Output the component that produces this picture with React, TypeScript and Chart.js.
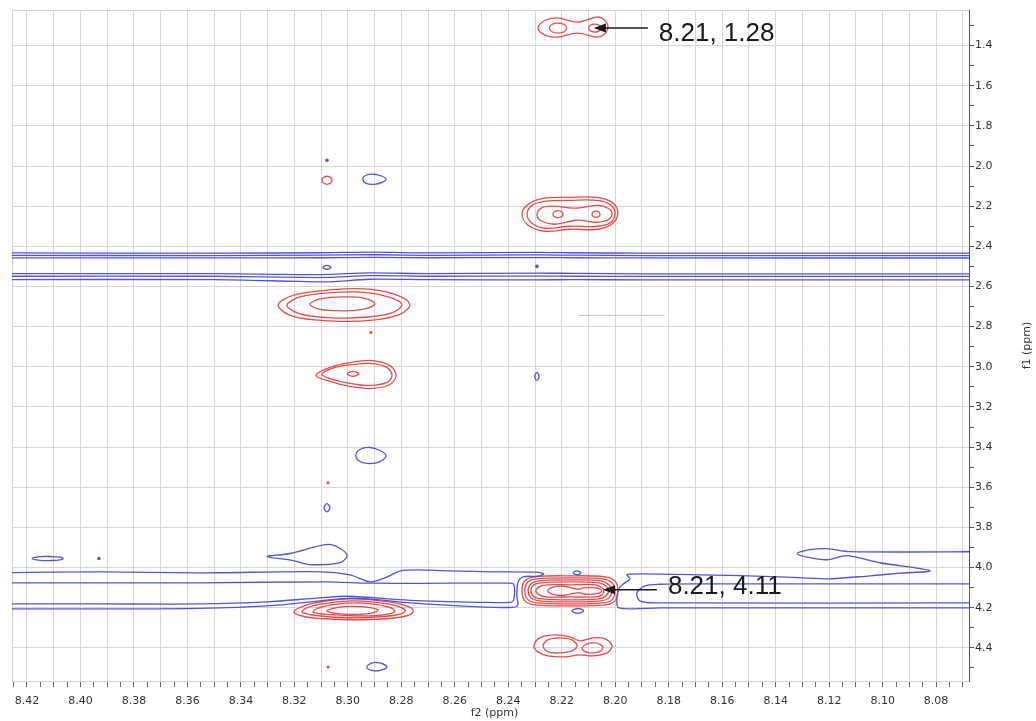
import React, { useEffect, useRef } from "react";
import { Chart, registerables } from "chart.js";
Chart.register(...registerables);

type P = [number, number];

// ---------- axes ----------
const X_TICK_LABELS = ["8.42","8.40","8.38","8.36","8.34","8.32","8.30","8.28","8.26","8.24","8.22","8.20","8.18","8.16","8.14","8.12","8.10","8.08"];
const Y_TICK_LABELS = ["1.4","1.6","1.8","2.0","2.2","2.4","2.6","2.8","3.0","3.2","3.4","3.6","3.8","4.0","4.2","4.4"];
const X_MIN = 8.0677;
const X_MAX = 8.4256;
const Y_MIN = 1.2229;
const Y_MAX = 4.565;

// ---------- red (positive) contours, [f2 ppm, f1 ppm] ----------
const R_128_OUTER: P[] = [[8.2289,1.313],[8.2263,1.275],[8.2218,1.262],[8.2143,1.283],[8.2068,1.258],[8.2042,1.270],[8.2027,1.308],[8.2042,1.345],[8.2068,1.358],[8.2143,1.338],[8.2218,1.358],[8.2263,1.348]];
const R_128_IN_L: P[] = [[8.2246,1.313],[8.2237,1.295],[8.2214,1.288],[8.2191,1.295],[8.2182,1.313],[8.2191,1.331],[8.2214,1.338],[8.2237,1.331]];
const R_128_IN_R: P[] = [[8.2100,1.313],[8.2093,1.299],[8.2076,1.293],[8.2059,1.299],[8.2052,1.313],[8.2059,1.327],[8.2076,1.333],[8.2093,1.327]];
const R_207: P[] = [[8.3097,2.071],[8.3091,2.057],[8.3078,2.051],[8.3065,2.057],[8.3059,2.071],[8.3065,2.085],[8.3078,2.091],[8.3091,2.085]];
const R_224_C1: P[] = [[8.2349,2.240],[8.2326,2.191],[8.2270,2.161],[8.2169,2.156],[8.2068,2.156],[8.2012,2.181],[8.1990,2.230],[8.2009,2.285],[8.2065,2.315],[8.2169,2.315],[8.2263,2.325],[8.2326,2.295]];
const R_224_C2: P[] = [[8.2330,2.240],[8.2311,2.196],[8.2263,2.176],[8.2169,2.171],[8.2068,2.171],[8.2020,2.191],[8.2001,2.230],[8.2016,2.280],[8.2065,2.300],[8.2169,2.300],[8.2263,2.310],[8.2311,2.285]];
const R_224_C3: P[] = [[8.2293,2.245],[8.2278,2.210],[8.2237,2.200],[8.2151,2.210],[8.2065,2.196],[8.2027,2.210],[8.2012,2.240],[8.2031,2.270],[8.2076,2.280],[8.2143,2.270],[8.2225,2.290],[8.2274,2.275]];
const R_224_IN_L: P[] = [[8.2233,2.240],[8.2227,2.227],[8.2214,2.222],[8.2201,2.227],[8.2195,2.240],[8.2201,2.253],[8.2214,2.258],[8.2227,2.253]];
const R_224_IN_R: P[] = [[8.2087,2.240],[8.2083,2.229],[8.2072,2.225],[8.2061,2.229],[8.2057,2.240],[8.2061,2.251],[8.2072,2.255],[8.2083,2.251]];
const R_270_C1: P[] = [[8.3261,2.694],[8.3205,2.644],[8.3067,2.617],[8.2936,2.612],[8.2824,2.639],[8.2768,2.689],[8.2805,2.739],[8.2917,2.769],[8.3067,2.771],[8.3205,2.749]];
const R_270_C2: P[] = [[8.3228,2.694],[8.3179,2.652],[8.3059,2.631],[8.2936,2.629],[8.2842,2.654],[8.2798,2.689],[8.2831,2.729],[8.2925,2.752],[8.3059,2.756],[8.3179,2.736]];
const R_270_C3: P[] = [[8.3142,2.689],[8.3104,2.662],[8.3011,2.652],[8.2936,2.659],[8.2899,2.686],[8.2936,2.711],[8.3011,2.721],[8.3104,2.714]];
const R_303_C1: P[] = [[8.3119,3.043],[8.3067,3.003],[8.2992,2.979],[8.2910,2.969],[8.2842,2.994],[8.2820,3.043],[8.2842,3.088],[8.2910,3.108],[8.2992,3.098],[8.3067,3.073]];
const R_303_C2: P[] = [[8.3097,3.038],[8.3048,3.003],[8.2985,2.989],[8.2910,2.984],[8.2854,3.003],[8.2835,3.043],[8.2854,3.078],[8.2917,3.093],[8.2992,3.083],[8.3056,3.063]];
const R_303_C3: P[] = [[8.3003,3.035],[8.2981,3.023],[8.2958,3.035],[8.2981,3.047]];
const R_422_C1: P[] = [[8.3202,4.220],[8.3153,4.186],[8.3078,4.166],[8.2992,4.156],[8.2910,4.161],[8.2824,4.176],[8.2764,4.200],[8.2756,4.220],[8.2779,4.240],[8.2861,4.255],[8.2981,4.260],[8.3086,4.255],[8.3160,4.245]];
const R_422_C2: P[] = [[8.3172,4.220],[8.3130,4.190],[8.3067,4.176],[8.2985,4.166],[8.2910,4.171],[8.2831,4.186],[8.2790,4.206],[8.2786,4.220],[8.2813,4.235],[8.2880,4.245],[8.2985,4.250],[8.3074,4.245],[8.3138,4.235]];
const R_422_C3: P[] = [[8.3130,4.220],[8.3097,4.196],[8.3037,4.181],[8.2973,4.176],[8.2910,4.181],[8.2850,4.196],[8.2824,4.216],[8.2842,4.230],[8.2899,4.240],[8.2985,4.240],[8.3056,4.235],[8.3104,4.230]];
const R_422_C4: P[] = [[8.3078,4.216],[8.3037,4.198],[8.2985,4.193],[8.2925,4.198],[8.2887,4.211],[8.2917,4.228],[8.2985,4.233],[8.3044,4.228]];
const R_411_C1: P[] = [[8.2349,4.116],[8.2338,4.066],[8.2300,4.046],[8.2169,4.041],[8.2038,4.046],[8.2001,4.066],[8.1990,4.116],[8.2001,4.166],[8.2038,4.186],[8.2169,4.191],[8.2300,4.186],[8.2338,4.166]];
const R_411_C2: P[] = [[8.2338,4.116],[8.2326,4.071],[8.2293,4.056],[8.2169,4.051],[8.2046,4.056],[8.2012,4.076],[8.2001,4.116],[8.2012,4.161],[8.2046,4.176],[8.2169,4.181],[8.2293,4.176],[8.2326,4.161]];
const R_411_C3: P[] = [[8.2326,4.116],[8.2315,4.081],[8.2285,4.066],[8.2169,4.061],[8.2053,4.066],[8.2024,4.086],[8.2012,4.116],[8.2024,4.151],[8.2053,4.166],[8.2169,4.171],[8.2285,4.166],[8.2315,4.151]];
const R_411_C4: P[] = [[8.2315,4.116],[8.2304,4.086],[8.2274,4.076],[8.2169,4.071],[8.2061,4.076],[8.2035,4.091],[8.2024,4.116],[8.2035,4.141],[8.2061,4.156],[8.2169,4.161],[8.2274,4.156],[8.2304,4.146]];
const R_411_C5: P[] = [[8.2297,4.116],[8.2285,4.096],[8.2255,4.086],[8.2169,4.086],[8.2072,4.086],[8.2050,4.101],[8.2042,4.116],[8.2050,4.136],[8.2072,4.146],[8.2169,4.146],[8.2255,4.146],[8.2285,4.136]];
const R_411_C6: P[] = [[8.2252,4.116],[8.2233,4.098],[8.2196,4.093],[8.2158,4.103],[8.2139,4.108],[8.2113,4.100],[8.2065,4.103],[8.2050,4.116],[8.2065,4.129],[8.2113,4.133],[8.2139,4.125],[8.2158,4.129],[8.2196,4.139],[8.2233,4.134]];
const R_440_OUTER: P[] = [[8.2304,4.390],[8.2282,4.350],[8.2226,4.335],[8.2169,4.345],[8.2132,4.365],[8.2083,4.350],[8.2038,4.355],[8.2012,4.390],[8.2031,4.425],[8.2083,4.440],[8.2132,4.435],[8.2188,4.445],[8.2252,4.440],[8.2289,4.420]];
const R_440_IN_L: P[] = [[8.2270,4.390],[8.2252,4.360],[8.2207,4.350],[8.2162,4.360],[8.2143,4.390],[8.2162,4.415],[8.2207,4.425],[8.2252,4.420]];
const R_440_IN_R: P[] = [[8.2124,4.400],[8.2106,4.380],[8.2076,4.375],[8.2053,4.385],[8.2046,4.400],[8.2061,4.420],[8.2095,4.425],[8.2117,4.415]];
const R_DOTS: P[] = [[8.2914,2.829],[8.3074,3.577],[8.3074,4.495]];

// ---------- blue (negative) contours ----------
const B_207: P[] = [[8.2944,2.066],[8.2932,2.046],[8.2902,2.041],[8.2872,2.051],[8.2857,2.066],[8.2872,2.081],[8.2902,2.091],[8.2932,2.086]];
const B_245_A: P[] = [[8.43,2.433],[8.35,2.434],[8.31,2.432],[8.29,2.429],[8.27,2.433],[8.229,2.430],[8.215,2.432],[8.19,2.434],[8.06,2.434]];
const B_245_B: P[] = [[8.43,2.445],[8.35,2.446],[8.31,2.444],[8.29,2.442],[8.27,2.445],[8.229,2.443],[8.215,2.444],[8.19,2.446],[8.06,2.446]];
const B_245_C: P[] = [[8.43,2.457],[8.35,2.458],[8.31,2.457],[8.29,2.455],[8.27,2.457],[8.229,2.456],[8.215,2.457],[8.19,2.458],[8.06,2.458]];
const B_255_A: P[] = [[8.43,2.536],[8.35,2.536],[8.318,2.541],[8.307,2.540],[8.292,2.532],[8.27,2.536],[8.229,2.533],[8.215,2.535],[8.19,2.537],[8.06,2.537]];
const B_255_B: P[] = [[8.43,2.549],[8.35,2.549],[8.318,2.555],[8.307,2.555],[8.292,2.546],[8.27,2.549],[8.229,2.548],[8.215,2.549],[8.19,2.550],[8.06,2.550]];
const B_255_C: P[] = [[8.43,2.566],[8.35,2.566],[8.318,2.575],[8.307,2.577],[8.292,2.564],[8.27,2.566],[8.229,2.567],[8.215,2.566],[8.19,2.567],[8.06,2.567]];
const B_250_SMALL: P[] = [[8.3093,2.505],[8.3078,2.495],[8.3063,2.505],[8.3078,2.515]];
const B_305: P[] = [[8.2301,3.048],[8.2293,3.028],[8.2285,3.048],[8.2293,3.068]];
const B_344: P[] = [[8.2970,3.442],[8.2955,3.412],[8.2917,3.402],[8.2880,3.417],[8.2857,3.442],[8.2880,3.472],[8.2917,3.482],[8.2955,3.472]];
const B_370: P[] = [[8.3089,3.702],[8.3078,3.682],[8.3067,3.702],[8.3078,3.722]];
const B_394: P[] = [[8.3302,3.945],[8.3216,3.930],[8.3074,3.885],[8.3029,3.905],[8.3003,3.940],[8.3029,3.975],[8.3142,3.985],[8.3205,3.965]];
const B_396_LEFT: P[] = [[8.4181,3.955],[8.4151,3.946],[8.4114,3.945],[8.4077,3.948],[8.4065,3.955],[8.4077,3.962],[8.4114,3.965],[8.4151,3.964]];
const B_403_SMALL: P[] = [[8.2158,4.026],[8.2143,4.016],[8.2128,4.026],[8.2143,4.036]];
const B_421_SMALL: P[] = [[8.2162,4.216],[8.2140,4.204],[8.2118,4.216],[8.2140,4.228]];
const B_449: P[] = [[8.2929,4.495],[8.2910,4.475],[8.2880,4.475],[8.2854,4.495],[8.2880,4.512],[8.2910,4.512]];
const B_LEFT_OUTER: P[] = [[8.43,4.026],[8.3927,4.021],[8.3553,4.026],[8.3104,4.021],[8.2992,4.036],[8.2917,4.071],[8.2861,4.051],[8.2794,4.014],[8.2618,4.016],[8.2457,4.021],[8.2293,4.023],[8.2267,4.031],[8.2289,4.043],[8.2345,4.046],[8.2364,4.076],[8.2368,4.141],[8.2364,4.186],[8.2383,4.198],[8.2506,4.196],[8.2768,4.176],[8.2880,4.161],[8.2999,4.153],[8.3104,4.166],[8.3302,4.191],[8.3553,4.203],[8.3927,4.206],[8.43,4.206]];
const B_LEFT_INNER: P[] = [[8.43,4.076],[8.3553,4.076],[8.3078,4.071],[8.2917,4.078],[8.2618,4.078],[8.2394,4.078],[8.2379,4.086],[8.2379,4.156],[8.2390,4.173],[8.2506,4.173],[8.2768,4.163],[8.2999,4.143],[8.3104,4.151],[8.3302,4.171],[8.3553,4.181],[8.3927,4.181],[8.43,4.181]];
const B_RIGHT_OUTER: P[] = [[8.06,3.921],[8.1122,3.921],[8.1208,3.906],[8.1272,3.911],[8.1320,3.931],[8.1272,3.951],[8.1208,3.961],[8.1133,3.941],[8.1010,3.976],[8.0823,4.016],[8.0935,4.028],[8.1047,4.041],[8.1208,4.056],[8.1384,4.046],[8.1683,4.036],[8.1908,4.031],[8.1956,4.036],[8.1945,4.056],[8.1982,4.096],[8.1994,4.151],[8.1986,4.201],[8.1833,4.201],[8.06,4.201]];
const B_RIGHT_INNER: P[] = [[8.06,4.081],[8.1683,4.081],[8.1833,4.083],[8.1889,4.091],[8.1919,4.126],[8.1908,4.166],[8.1852,4.176],[8.06,4.176]];
const B_DOTS: P[] = [[8.3078,1.971],[8.2293,2.500],[8.3931,3.955]];

// faint gray segment
const GRAY_SEGMENT: P[] = [[8.2139,2.744],[8.1814,2.744]];

// annotations
const ANNOT_TEXT = ["8.21, 1.28", "8.21, 4.11"];
const ANNOT_TIP: P[] = [[8.2080, 1.3127], [8.2046, 4.1107]];
const ANNOT_TAIL_X = [8.1878, 8.1844];
const ANNOT_TEXT_POS: P[] = [[8.1837, 1.3776], [8.1803, 4.1307]];

const RED = "#e84a4a";
const BLUE = "#5252e2";
const TICK_FONT = "Tahoma, 'DejaVu Sans', sans-serif";

const RED_LOOPS = [R_128_OUTER, R_128_IN_L, R_128_IN_R, R_207, R_224_C1, R_224_C2, R_224_C3, R_224_IN_L, R_224_IN_R,
  R_270_C1, R_270_C2, R_270_C3, R_303_C1, R_303_C2, R_303_C3, R_422_C1, R_422_C2, R_422_C3, R_422_C4,
  R_411_C1, R_411_C2, R_411_C3, R_411_C4, R_411_C5, R_411_C6, R_440_OUTER, R_440_IN_L, R_440_IN_R];
const BLUE_LOOPS = [B_207, B_250_SMALL, B_305, B_344, B_370, B_394, B_396_LEFT, B_403_SMALL, B_421_SMALL, B_449];
const BLUE_OPEN = [B_245_A, B_245_B, B_245_C, B_255_A, B_255_B, B_255_C, B_LEFT_OUTER, B_LEFT_INNER, B_RIGHT_OUTER, B_RIGHT_INNER];

const toXY = (p: P[]) => p.map(([x, y]) => ({ x, y }));

function lineDs(p: P[], color: string, loop: boolean, width = 1.3, tension = 0.35) {
  return {
    data: toXY(p),
    borderColor: color,
    borderWidth: width,
    pointRadius: 0,
    showLine: true,
    fill: false,
    tension,
    spanGaps: true,
    closedLoop: loop,
  };
}
function dotDs(p: P[], color: string, r: number) {
  return {
    data: toXY(p),
    showLine: false,
    pointRadius: r,
    pointBackgroundColor: color,
    pointBorderColor: color,
    pointBorderWidth: 0,
  };
}

// make closed contours smooth, closed splines
const loopPlugin = {
  id: "closedLoops",
  afterDatasetsUpdate(chart: any) {
    chart.data.datasets.forEach((ds: any, i: number) => {
      if (!ds.closedLoop) return;
      const el = chart.getDatasetMeta(i).dataset;
      if (!el) return;
      el._loop = true;
      el._fullLoop = true;
      el._pointsUpdated = false;
      el._segments = undefined;
      el._path = undefined;
    });
  },
};

const overlayPlugin = {
  id: "overlay",
  beforeDatasetsDraw(chart: any) {
    const { ctx, chartArea: a } = chart;
    ctx.save();
    ctx.strokeStyle = "#cfcfcf";
    ctx.lineWidth = 1;
    ctx.beginPath();
    ctx.moveTo(a.left + 0.5, a.bottom);
    ctx.lineTo(a.left + 0.5, a.top + 0.5);
    ctx.lineTo(a.right, a.top + 0.5);
    ctx.stroke();
    ctx.restore();
  },
  afterDraw(chart: any) {
    const { ctx, chartArea: a } = chart;
    const xs = chart.scales.x;
    const ys = chart.scales.y;
    ctx.save();
    for (let i = 0; i < ANNOT_TEXT.length; i++) {
      const tx = xs.getPixelForValue(ANNOT_TIP[i][0]);
      const ty = ys.getPixelForValue(ANNOT_TIP[i][1]);
      const tail = xs.getPixelForValue(ANNOT_TAIL_X[i]);
      ctx.strokeStyle = "#1a1a1a";
      ctx.fillStyle = "#1a1a1a";
      ctx.lineWidth = 1.6;
      ctx.beginPath();
      ctx.moveTo(tail, ty);
      ctx.lineTo(tx + 10, ty);
      ctx.stroke();
      ctx.beginPath();
      ctx.moveTo(tx, ty);
      ctx.lineTo(tx + 12, ty - 4.5);
      ctx.lineTo(tx + 12, ty + 4.5);
      ctx.closePath();
      ctx.fill();
      ctx.font = "26px 'Liberation Sans', Arial, sans-serif";
      ctx.textAlign = "left";
      ctx.textBaseline = "alphabetic";
      ctx.fillText(ANNOT_TEXT[i], xs.getPixelForValue(ANNOT_TEXT_POS[i][0]), ys.getPixelForValue(ANNOT_TEXT_POS[i][1]));
    }
    ctx.fillStyle = "#333";
    ctx.font = `11px ${TICK_FONT}`;
    ctx.textAlign = "center";
    ctx.textBaseline = "middle";
    ctx.fillText("f2 (ppm)", (a.left + a.right) / 2 + 4, 713);
    ctx.translate(1027, (a.top + a.bottom) / 2);
    ctx.rotate(-Math.PI / 2);
    ctx.fillText("f1 (ppm)", 0, 0);
    ctx.restore();
  },
};

export default function App() {
  const ref = useRef<HTMLCanvasElement | null>(null);
  useEffect(() => {
    document.body.style.margin = "0";
    const canvas = ref.current;
    if (!canvas) return;
    const datasets: any[] = [];
    datasets.push(lineDs(GRAY_SEGMENT, "#c4c4c4", false, 1, 0));
    BLUE_OPEN.forEach((p) => datasets.push(lineDs(p, BLUE, false, 1.3, 0.3)));
    BLUE_LOOPS.forEach((p) => datasets.push(lineDs(p, BLUE, true)));
    RED_LOOPS.forEach((p) => datasets.push(lineDs(p, RED, true)));
    datasets.push(dotDs(B_DOTS, BLUE, 1.8));
    datasets.push(dotDs(R_DOTS, RED, 1.5));

    const chart = new Chart(canvas, {
      type: "scatter",
      data: { datasets },
      plugins: [loopPlugin, overlayPlugin],
      options: {
        animation: false,
        responsive: false,
        devicePixelRatio: 1,
        layout: { padding: { left: 12, top: 10, right: 0, bottom: 0 } },
        plugins: { legend: { display: false }, tooltip: { enabled: false } },
        scales: {
          x: {
            type: "linear",
            position: "bottom",
            reverse: true,
            min: X_MIN,
            max: X_MAX,
            afterBuildTicks: (scale: any) => {
              const t: any[] = [];
              for (let k = 8070; k <= 8425; k += 5) t.push({ value: k / 1000 });
              scale.ticks = t;
            },
            afterFit: (scale: any) => { scale.height = 40; },
            ticks: {
              autoSkip: false,
              maxRotation: 0,
              padding: 8,
              color: "#333",
              font: { family: TICK_FONT, size: 11 },
              callback: (v: any) => {
                const k = Math.round(Number(v) * 1000);
                const s = (k / 1000).toFixed(2);
                return k % 20 === 0 && X_TICK_LABELS.includes(s) ? s : "";
              },
            },
            grid: {
              color: (c: any) => {
                const v = c.tick ? c.tick.value : NaN;
                return Math.round(v * 1000) % 10 === 0 ? "#d6d6d6" : "rgba(0,0,0,0)";
              },
              lineWidth: 1,
              tickLength: 6,
              tickColor: "#666",
            },
            border: { display: true, color: "#cfcfcf" },
          },
          y: {
            type: "linear",
            position: "right",
            reverse: true,
            min: Y_MIN,
            max: Y_MAX,
            afterBuildTicks: (scale: any) => {
              const t: any[] = [];
              for (let k = 13; k <= 45; k++) t.push({ value: k / 10 });
              scale.ticks = t;
            },
            afterFit: (scale: any) => { scale.width = 67; },
            ticks: {
              autoSkip: false,
              padding: 1,
              color: "#333",
              font: { family: TICK_FONT, size: 11 },
              callback: (v: any) => {
                const k = Math.round(Number(v) * 10);
                const s = (k / 10).toFixed(1);
                return k % 2 === 0 && Y_TICK_LABELS.includes(s) ? s : "";
              },
            },
            grid: {
              color: (c: any) => {
                const v = c.tick ? c.tick.value : NaN;
                return Math.round(v * 10) % 2 === 0 ? "#d6d6d6" : "rgba(0,0,0,0)";
              },
              lineWidth: 1,
              tickLength: 5,
              tickColor: "#555",
            },
            border: { display: true, color: "#555" },
          },
        },
      },
    } as any);
    return () => chart.destroy();
  }, []);
  return <canvas ref={ref} width={1036} height={721} style={{ display: "block" }} />;
}
